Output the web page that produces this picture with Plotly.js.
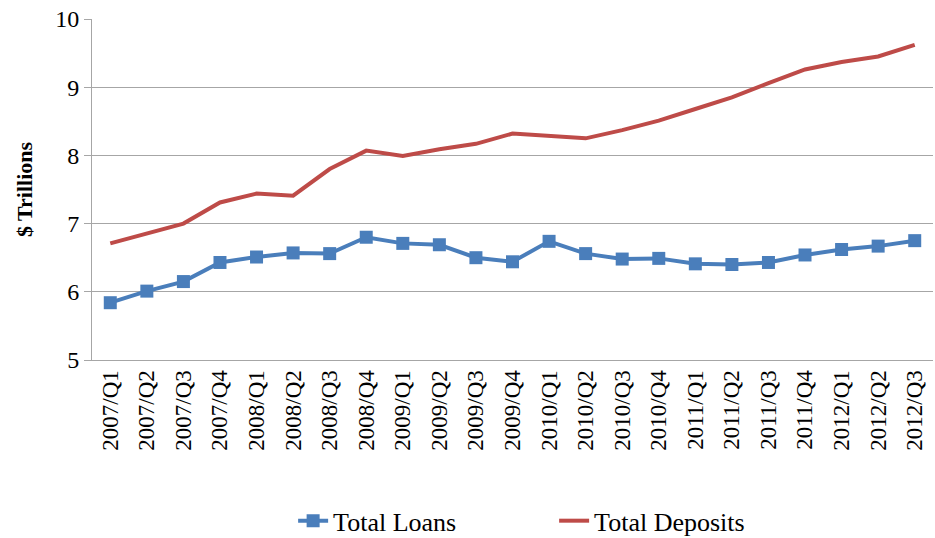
<!DOCTYPE html>
<html>
<head>
<meta charset="utf-8">
<script src="https://cdn.plot.ly/plotly-3.0.1.min.js"></script>
<style>
  html, body { margin: 0; padding: 0; background: #fff; }
  #chart { width: 935px; height: 538px; }
</style>
</head>
<body>
<div id="chart"></div>
<script>
// quarters on the category axis
var quarters = [
  '2007/Q1', '2007/Q2', '2007/Q3', '2007/Q4',
  '2008/Q1', '2008/Q2', '2008/Q3', '2008/Q4',
  '2009/Q1', '2009/Q2', '2009/Q3', '2009/Q4',
  '2010/Q1', '2010/Q2', '2010/Q3', '2010/Q4',
  '2011/Q1', '2011/Q2', '2011/Q3', '2011/Q4',
  '2012/Q1', '2012/Q2', '2012/Q3'
];

// $ trillions
var totalLoans = [
  5.84, 6.01, 6.15, 6.43,
  6.51, 6.57, 6.56, 6.80,
  6.71, 6.69, 6.50, 6.44,
  6.74, 6.56, 6.48, 6.49,
  6.41, 6.40, 6.43, 6.54,
  6.62, 6.67, 6.75
];

var totalDeposits = [
  6.71, 6.86, 7.00, 7.31,
  7.44, 7.41, 7.80, 8.07,
  7.99, 8.09, 8.17, 8.32,
  8.28, 8.25, 8.37, 8.51,
  8.68, 8.85, 9.06, 9.26,
  9.37, 9.45, 9.62
];

var serif = '"Liberation Serif", "Times New Roman", serif';

var traces = [{
  x: quarters,
  y: totalLoans,
  name: 'Total Loans',
  type: 'scatter',
  mode: 'lines+markers',
  line: { color: '#4A7EBB', width: 4 },
  marker: { symbol: 'square', size: 13, color: '#4A7EBB' }
}, {
  x: quarters,
  y: totalDeposits,
  name: 'Total Deposits',
  type: 'scatter',
  mode: 'lines',
  line: { color: '#BE4B48', width: 4 }
}];

var layout = {
  width: 935,
  height: 538,
  margin: { l: 92, r: 2, t: 19, b: 178 },
  paper_bgcolor: '#fff',
  plot_bgcolor: '#fff',
  font: { family: serif, color: '#000' },
  showlegend: true,
  legend: {
    orientation: 'h',
    xref: 'container',
    x: 0.3135, xanchor: 'left',
    yref: 'container',
    y: 0.032, yanchor: 'middle',
    entrywidth: 216,
    font: { family: serif, size: 26, color: '#000' },
    traceorder: 'normal'
  },
  xaxis: {
    type: 'category',
    automargin: false,
    tickangle: -90,
    tickfont: { family: serif, size: 23, color: '#000' },
    showgrid: false,
    showline: true,
    linecolor: '#a6a6a6',
    linewidth: 1,
    ticks: '',
    range: [-0.5, quarters.length - 0.5]
  },
  yaxis: {
    range: [5, 10],
    dtick: 1,
    automargin: false,
    tickfont: { family: serif, size: 24, color: '#000' },
    showgrid: true,
    gridcolor: '#a6a6a6',
    gridwidth: 1,
    showline: true,
    linecolor: '#a6a6a6',
    ticks: 'outside',
    ticklen: 7,
    tickcolor: '#a6a6a6',
    zeroline: false,
    title: {
      text: '<b>$ Trillions</b>',
      font: { family: serif, size: 22, color: '#000' },
      standoff: 16
    }
  }
};

Plotly.newPlot('chart', traces, layout, { displayModeBar: false, staticPlot: true });
</script>
</body>
</html>
